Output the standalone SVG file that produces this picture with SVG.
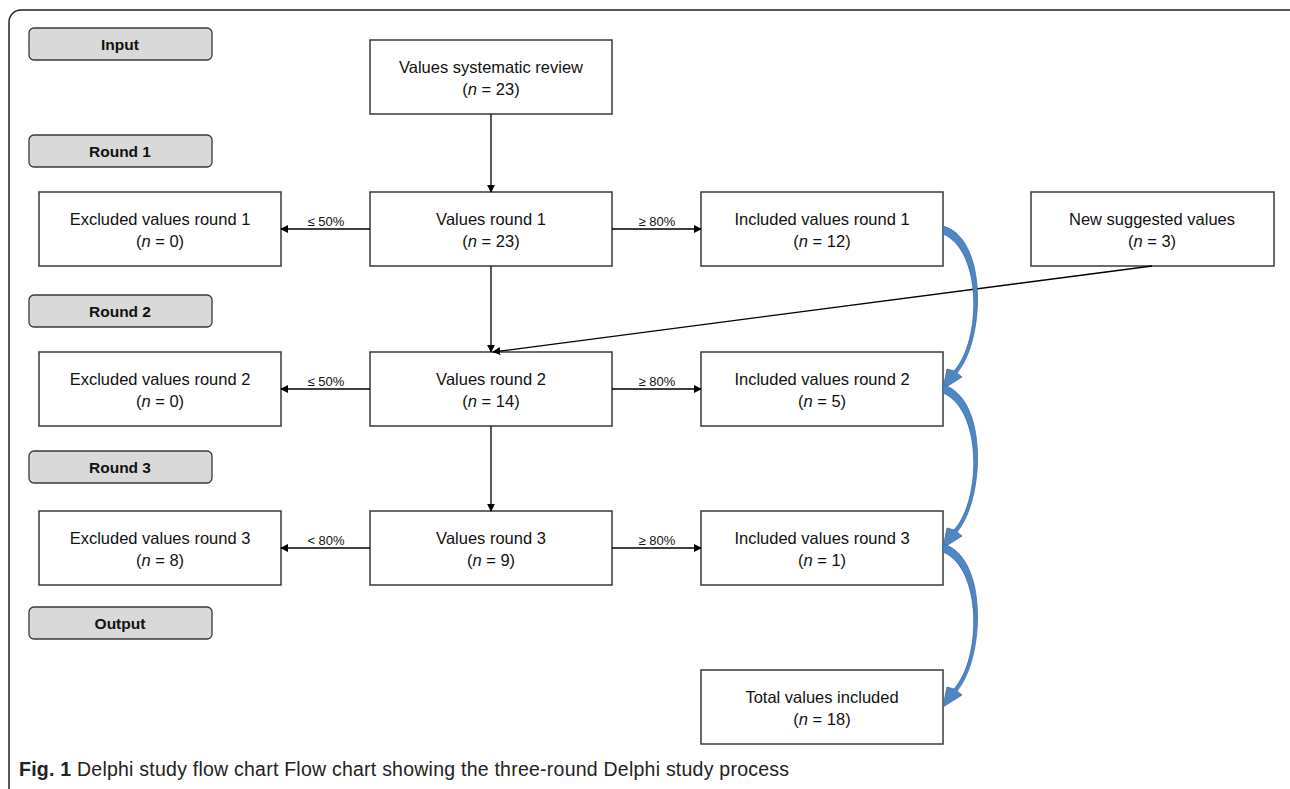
<svg xmlns="http://www.w3.org/2000/svg" width="1290" height="789" viewBox="0 0 1290 789">
<style>
.frame{fill:#fff;stroke:#222;stroke-width:1.5}
.box{fill:#fff;stroke:#3a3a3a;stroke-width:1.5}
.lab{fill:#d9d9d9;stroke:#3a3a3a;stroke-width:1.3}
.t{font-family:"Liberation Sans",Arial,sans-serif;font-size:16.5px;fill:#111;text-anchor:middle}
.tb{font-family:"Liberation Sans",Arial,sans-serif;font-size:15.5px;font-weight:bold;fill:#111;text-anchor:middle}
.e{font-family:"Liberation Sans",Arial,sans-serif;font-size:13px;fill:#111;text-anchor:middle}
.cap{font-family:"Liberation Sans",Arial,sans-serif;font-size:19.5px;fill:#222}
.ln{stroke:#000;stroke-width:1.3;fill:none;marker-end:url(#ah)}
.blue{fill:#4f86c6;stroke:#3b6ca6;stroke-width:0.8}
</style>
<defs>
<marker id="ah" viewBox="0 0 10 10" refX="9" refY="5" markerWidth="8" markerHeight="8" markerUnits="userSpaceOnUse" orient="auto">
<path d="M0,0 L10,5 L0,10 Z" fill="#000"/>
</marker>
<path id="carrow" d="M0,-4 C45,8 42,110 14,143 L19,147 L0,159 L4,139 L11,141 C39,110 39,20 0,4 Z"/>
</defs>
<rect class="frame" x="9" y="10" width="1295" height="790" rx="12"/>

<g id="lab-input"><rect class="lab" x="29" y="28" width="183" height="32" rx="5"/><text class="tb" x="120" y="49.5">Input</text></g>
<g id="lab-round1"><rect class="lab" x="29" y="135" width="183" height="32" rx="5"/><text class="tb" x="120" y="156.5">Round 1</text></g>
<g id="lab-round2"><rect class="lab" x="29" y="295" width="183" height="32" rx="5"/><text class="tb" x="120" y="316.5">Round 2</text></g>
<g id="lab-round3"><rect class="lab" x="29" y="451" width="183" height="32" rx="5"/><text class="tb" x="120" y="472.5">Round 3</text></g>
<g id="lab-output"><rect class="lab" x="29" y="607" width="183" height="32" rx="5"/><text class="tb" x="120" y="628.5">Output</text></g>

<g id="review"><rect class="box" x="370" y="40" width="242" height="74"/><text class="t" x="491" y="73">Values systematic review</text><text class="t" x="491" y="95">(<tspan font-style="italic">n</tspan> = 23)</text></g>

<g id="excl1"><rect class="box" x="39" y="192" width="242" height="74"/><text class="t" x="160" y="225">Excluded values round 1</text><text class="t" x="160" y="247">(<tspan font-style="italic">n</tspan> = 0)</text></g>
<g id="val1"><rect class="box" x="370" y="192" width="242" height="74"/><text class="t" x="491" y="225">Values round 1</text><text class="t" x="491" y="247">(<tspan font-style="italic">n</tspan> = 23)</text></g>
<g id="incl1"><rect class="box" x="701" y="192" width="242" height="74"/><text class="t" x="822" y="225">Included values round 1</text><text class="t" x="822" y="247">(<tspan font-style="italic">n</tspan> = 12)</text></g>
<g id="new"><rect class="box" x="1031" y="192" width="243" height="74"/><text class="t" x="1152" y="225">New suggested values</text><text class="t" x="1152" y="247">(<tspan font-style="italic">n</tspan> = 3)</text></g>

<g id="excl2"><rect class="box" x="39" y="352" width="242" height="74"/><text class="t" x="160" y="385">Excluded values round 2</text><text class="t" x="160" y="407">(<tspan font-style="italic">n</tspan> = 0)</text></g>
<g id="val2"><rect class="box" x="370" y="352" width="242" height="74"/><text class="t" x="491" y="385">Values round 2</text><text class="t" x="491" y="407">(<tspan font-style="italic">n</tspan> = 14)</text></g>
<g id="incl2"><rect class="box" x="701" y="352" width="242" height="74"/><text class="t" x="822" y="385">Included values round 2</text><text class="t" x="822" y="407">(<tspan font-style="italic">n</tspan> = 5)</text></g>

<g id="excl3"><rect class="box" x="39" y="511" width="242" height="74"/><text class="t" x="160" y="544">Excluded values round 3</text><text class="t" x="160" y="566">(<tspan font-style="italic">n</tspan> = 8)</text></g>
<g id="val3"><rect class="box" x="370" y="511" width="242" height="74"/><text class="t" x="491" y="544">Values round 3</text><text class="t" x="491" y="566">(<tspan font-style="italic">n</tspan> = 9)</text></g>
<g id="incl3"><rect class="box" x="701" y="511" width="242" height="74"/><text class="t" x="822" y="544">Included values round 3</text><text class="t" x="822" y="566">(<tspan font-style="italic">n</tspan> = 1)</text></g>

<g id="total"><rect class="box" x="701" y="670" width="242" height="74"/><text class="t" x="822" y="703">Total values included</text><text class="t" x="822" y="725">(<tspan font-style="italic">n</tspan> = 18)</text></g>

<g id="connectors">
<line class="ln" x1="491" y1="114" x2="491" y2="192"/>
<line class="ln" x1="491" y1="266" x2="491" y2="352"/>
<line class="ln" x1="491" y1="426" x2="491" y2="511"/>
<line class="ln" x1="370" y1="229" x2="281" y2="229"/>
<line class="ln" x1="612" y1="229" x2="701" y2="229"/>
<line class="ln" x1="370" y1="389" x2="281" y2="389"/>
<line class="ln" x1="612" y1="389" x2="701" y2="389"/>
<line class="ln" x1="370" y1="548" x2="281" y2="548"/>
<line class="ln" x1="612" y1="548" x2="701" y2="548"/>
<line class="ln" x1="1152" y1="266" x2="493" y2="352"/>
<text class="e" x="326" y="226">≤ 50%</text>
<text class="e" x="657" y="226">≥ 80%</text>
<text class="e" x="326" y="386">≤ 50%</text>
<text class="e" x="657" y="386">≥ 80%</text>
<text class="e" x="326" y="545">&lt; 80%</text>
<text class="e" x="657" y="545">≥ 80%</text>
<use href="#carrow" class="blue" transform="translate(943,230)"/>
<use href="#carrow" class="blue" transform="translate(943,389)"/>
<use href="#carrow" class="blue" transform="translate(943,548)"/>
</g>

<text class="cap" x="19" y="776" textLength="770" lengthAdjust="spacing"><tspan font-weight="bold">Fig. 1</tspan> Delphi study flow chart Flow chart showing the three-round Delphi study process</text>
</svg>
